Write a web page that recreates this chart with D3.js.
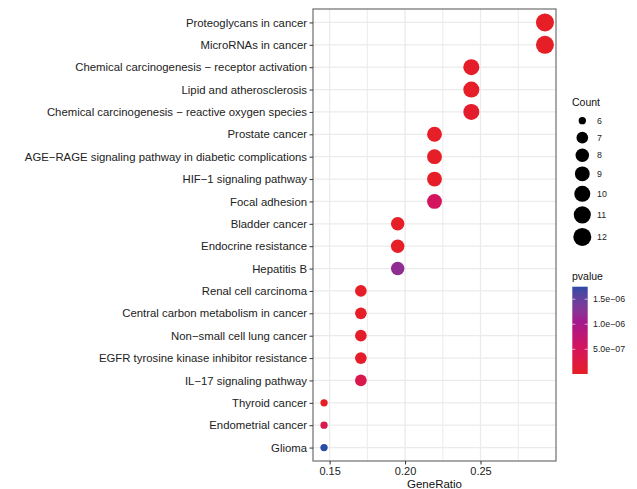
<!DOCTYPE html>
<html>
<head>
<meta charset="utf-8">
<script src="https://cdn.jsdelivr.net/npm/d3@7"></script>
<style>
  html, body { margin: 0; padding: 0; background: #fff; }
  svg { display: block; font-family: "Liberation Sans", Arial, Helvetica, sans-serif; }
</style>
</head>
<body>
<svg id="chart" width="637" height="489"></svg>
<script>
// ---- data ----
const categories = [
  "Proteoglycans in cancer",
  "MicroRNAs in cancer",
  "Chemical carcinogenesis \u2212 receptor activation",
  "Lipid and atherosclerosis",
  "Chemical carcinogenesis \u2212 reactive oxygen species",
  "Prostate cancer",
  "AGE\u2212RAGE signaling pathway in diabetic complications",
  "HIF\u22121 signaling pathway",
  "Focal adhesion",
  "Bladder cancer",
  "Endocrine resistance",
  "Hepatitis B",
  "Renal cell carcinoma",
  "Central carbon metabolism in cancer",
  "Non\u2212small cell lung cancer",
  "EGFR tyrosine kinase inhibitor resistance",
  "IL\u221217 signaling pathway",
  "Thyroid cancer",
  "Endometrial cancer",
  "Glioma"
];
const geneRatio = [0.2927, 0.2927, 0.2439, 0.2439, 0.2439, 0.2195, 0.2195, 0.2195, 0.2195,
                   0.1951, 0.1951, 0.1951, 0.1707, 0.1707, 0.1707, 0.1707, 0.1707,
                   0.1463, 0.1463, 0.1463];
const counts = [12, 12, 10, 10, 10, 9, 9, 9, 9, 8, 8, 8, 7, 7, 7, 7, 7, 6, 6, 6];
const pvalues = [1.0e-8, 6e-9, 4e-8, 3e-8, 6e-8, 2e-8, 3e-8, 3e-8, 5.2e-7,
                 2e-8, 3e-8, 1.2e-6, 2e-8, 3e-8, 4e-8, 5e-8, 3.6e-7,
                 1.5e-8, 3.6e-7, 1.75e-6];
const xTicks = [0.15, 0.20, 0.25];
const xMinorTicks = [0.175, 0.225, 0.275];
const countLegend = [6, 7, 8, 9, 10, 11, 12];
const pTicks = [5e-7, 1e-6, 1.5e-6];
const pTickLabels = ["5.0e\u221207", "1.0e\u221206", "1.5e\u221206"];
const gradientStops = [0, 0.3, 0.6, 1];
const gradientColors = ["#E61E25", "#D4155E", "#A3198E", "#2A4BA6"];

// ---- layout ----
const panel = { left: 313, right: 556, top: 9, bottom: 461 };
const svg = d3.select("#chart");

const ext = d3.extent(geneRatio);
const pad = (ext[1] - ext[0]) * 0.05;
const x = d3.scaleLinear().domain([ext[0] - pad, ext[1] + pad]).range([panel.left, panel.right]);
const y = d3.scalePoint().domain(categories).range([panel.top, panel.bottom]).padding(0.6);

const cExt = d3.extent(counts);
const sizeT = d3.scaleLinear().domain([0, 1]).range([3.65, 9.0]);
const radius = c => sizeT(Math.sqrt((c - cExt[0]) / (cExt[1] - cExt[0])));

const pExt = d3.extent(pvalues);
const color = d3.scaleLinear()
  .domain(gradientStops.map(t => pExt[0] + t * (pExt[1] - pExt[0])))
  .range(gradientColors).interpolate(d3.interpolateLab);

// ---- grid ----
const grid = svg.append("g");
grid.selectAll("line.minor").data(xMinorTicks).join("line")
  .attr("x1", d => x(d)).attr("x2", d => x(d))
  .attr("y1", panel.top).attr("y2", panel.bottom)
  .attr("stroke", "#ebebeb").attr("stroke-width", 1);
grid.selectAll("line.majorx").data(xTicks).join("line")
  .attr("x1", d => x(d)).attr("x2", d => x(d))
  .attr("y1", panel.top).attr("y2", panel.bottom)
  .attr("stroke", "#ebebeb").attr("stroke-width", 1.3);
grid.selectAll("line.majory").data(categories).join("line")
  .attr("x1", panel.left).attr("x2", panel.right)
  .attr("y1", d => y(d)).attr("y2", d => y(d))
  .attr("stroke", "#ebebeb").attr("stroke-width", 1.3);

// ---- points ----
const data = categories.map((c, i) => ({ cat: c, gr: geneRatio[i], n: counts[i], p: pvalues[i] }));
svg.append("g").selectAll("circle").data(data).join("circle")
  .attr("cx", d => x(d.gr)).attr("cy", d => y(d.cat))
  .attr("r", d => radius(d.n))
  .attr("fill", d => color(d.p));

// ---- border ----
svg.append("rect")
  .attr("x", panel.left).attr("y", panel.top)
  .attr("width", panel.right - panel.left).attr("height", panel.bottom - panel.top)
  .attr("fill", "none").attr("stroke", "#6e6e6e").attr("stroke-width", 1.2);

// ---- axes ----
const yAxis = d3.axisLeft(y).tickSize(3.5).tickPadding(2.5);
const gy = svg.append("g").attr("transform", `translate(${panel.left},0)`).call(yAxis);
gy.select(".domain").remove();
gy.selectAll(".tick line").attr("stroke", "#333").attr("stroke-width", 1);
gy.selectAll(".tick text").attr("fill", "#222").attr("font-size", "11.35px")
  .attr("font-family", "Liberation Sans, Arial, sans-serif");

const xAxis = d3.axisBottom(x).tickValues(xTicks).tickFormat(d3.format(".2f")).tickSize(3.5).tickPadding(2.5);
const gx = svg.append("g").attr("transform", `translate(0,${panel.bottom})`).call(xAxis);
gx.select(".domain").remove();
gx.selectAll(".tick line").attr("stroke", "#333").attr("stroke-width", 1);
gx.selectAll(".tick text").attr("fill", "#222").attr("font-size", "11px")
  .attr("font-family", "Liberation Sans, Arial, sans-serif");

svg.append("text").attr("x", (panel.left + panel.right) / 2).attr("y", 488)
  .attr("text-anchor", "middle").attr("font-size", "11.5px").attr("fill", "#111")
  .text("GeneRatio");

// ---- size legend ----
const lg = svg.append("g");
lg.append("text").attr("x", 572).attr("y", 105.5).attr("font-size", "10.5px").attr("fill", "#111").text("Count");
let yy = 120.7;
const rowH = c => Math.max(17, 2 * radius(c) + 4.5);
countLegend.forEach((c, i) => {
  if (i > 0) yy += (rowH(countLegend[i - 1]) + rowH(c)) / 2;
  lg.append("circle").attr("cx", 582.3).attr("cy", yy).attr("r", radius(c)).attr("fill", "#000");
  lg.append("text").attr("x", 597).attr("y", yy).attr("dy", "0.35em")
    .attr("font-size", "8.8px").attr("fill", "#222").text(c);
});

// ---- color legend ----
const cb = { x: 572.3, y: 286.7, w: 15.4, h: 87.3 };
const defs = svg.append("defs");
const grad = defs.append("linearGradient").attr("id", "pgrad")
  .attr("x1", 0).attr("y1", 1).attr("x2", 0).attr("y2", 0);
d3.range(0, 1.0001, 0.05).forEach(t => {
  grad.append("stop").attr("offset", t).attr("stop-color", color(pExt[0] + t * (pExt[1] - pExt[0])));
});
svg.append("text").attr("x", 572).attr("y", 280).attr("font-size", "10.5px").attr("fill", "#111").text("pvalue");
svg.append("rect").attr("x", cb.x).attr("y", cb.y).attr("width", cb.w).attr("height", cb.h)
  .attr("fill", "url(#pgrad)");
const cy = d3.scaleLinear().domain(pExt).range([cb.y + cb.h, cb.y]);
pTicks.forEach((p, i) => {
  const ty = cy(p);
  svg.append("line").attr("x1", cb.x).attr("x2", cb.x + 3).attr("y1", ty).attr("y2", ty)
    .attr("stroke", "#fff").attr("stroke-width", 0.8).attr("opacity", 0.8);
  svg.append("line").attr("x1", cb.x + cb.w - 3).attr("x2", cb.x + cb.w).attr("y1", ty).attr("y2", ty)
    .attr("stroke", "#fff").attr("stroke-width", 0.8).attr("opacity", 0.8);
  svg.append("text").attr("x", 593).attr("y", ty).attr("dy", "0.35em")
    .attr("font-size", "8.8px").attr("fill", "#222").text(pTickLabels[i]);
});
</script>
</body>
</html>
